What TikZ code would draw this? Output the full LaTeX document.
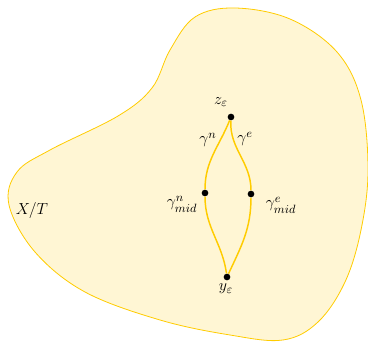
\documentclass[tikz,border=0pt]{standalone}
\usepackage{amsmath,amssymb}
\usepackage{tikz}
\usetikzlibrary{positioning,calc}
\definecolor{gold}{RGB}{255,204,0}

\begin{document}
\begin{tikzpicture}[x=0.75pt,y=-0.75pt,
    every node/.style={font=\fontsize{12.5}{15}\selectfont},
    pt/.style={circle,fill=black,inner sep=0pt,minimum size=5pt},
    geod/.style={gold,line width=1.1pt}]
  \useasboundingbox (0,0) rectangle (368,342);
  % Quotient space
  \draw[gold,line width=0.6pt,fill=gold!17] plot[smooth cycle,tension=0.6] coordinates {
    (235,8) (290,19) (337,52) (361,100) (368,170) (361,230) (345,282)
    (318,322) (283,340) (230,335) (160,320) (85,292) (35,252) (9,205)
    (17,172) (50,150) (118,116) (152,88) (170,50) (195,17)};
  \node at (32,211) {$X/T$};
  % Endpoints and midpoints
  \node[pt] (z) at (231,117) {};
  \node[pt] (nmid) at (205,193) {};
  \node[pt] (emid) at (251,194) {};
  \node[pt] (y) at (227,277) {};
  % Two geodesics
  \draw[geod] (z) to[out=-112,in=90] (nmid) to[out=-90,in=98] (y);
  \draw[geod] (z) to[out=-93,in=90] (emid) to[out=-90,in=65] (y);
  % Labels
  \node at (221,102) {$z_\varepsilon$};
  \node at (208,140) {$\gamma^n$};
  \node at (245,139) {$\gamma^e$};
  \node at (182,204) {$\gamma^n_{mid}$};
  \node at (281,205) {$\gamma^e_{mid}$};
  \node at (226,289) {$y_\varepsilon$};
\end{tikzpicture}
\end{document}
